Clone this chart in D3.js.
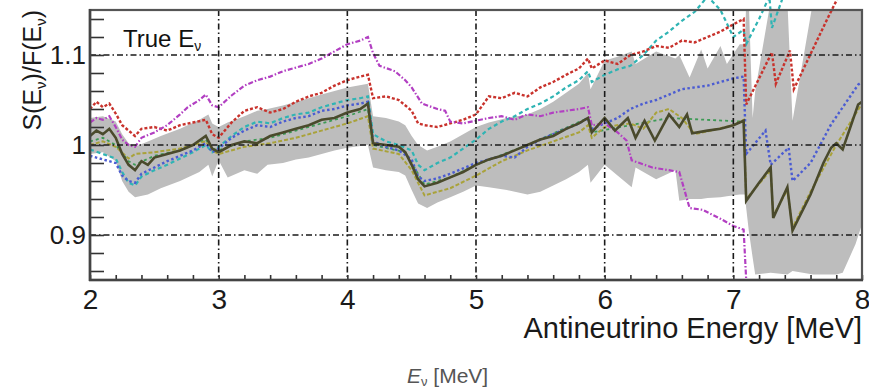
<!DOCTYPE html>
<html><head><meta charset="utf-8">
<script src="https://cdn.jsdelivr.net/npm/d3@7"></script>
<style>body{margin:0;background:#fff}svg{display:block;font-family:"Liberation Sans",Arial,sans-serif}</style>
</head><body><svg id="c" width="869" height="391"></svg>
<script>
// ---- data (energy in MeV, ratio S/F) ----
const xTicks = [2,3,4,5,6,7,8];
const xTickLabels = ["2","3","4","5","6","7","8"];
const yTicks = [0.9,1.0,1.1];
const yTickLabels = ["0.9","1","1.1"];

const bandE  = [2.00,2.10,2.20,2.25,2.30,2.35,2.45,2.55,2.70,2.85,2.92,2.95,3.00,3.07,3.20,3.30,3.38,3.50,3.60,3.70,3.80,3.90,4.00,4.16,4.20,4.30,4.40,4.45,4.50,4.55,4.62,4.70,4.80,4.90,5.00,5.10,5.24,5.40,5.50,5.60,5.70,5.80,5.87,5.89,6.00,6.10,6.21,6.24,6.40,6.55,6.58,6.66,6.75,6.80,6.90,6.95,7.05,7.09,7.10,7.12,7.15,7.17,7.29,7.42,7.46,7.62,7.80,7.85,7.95,8.00];
const bandLo = [0.990,0.992,0.982,0.960,0.948,0.942,0.945,0.952,0.960,0.970,0.978,0.965,0.983,0.964,0.972,0.968,0.978,0.980,0.984,0.986,0.990,0.994,0.997,1.000,0.975,0.972,0.970,0.966,0.950,0.935,0.930,0.936,0.942,0.948,0.955,0.953,0.950,0.945,0.948,0.955,0.962,0.970,0.978,0.958,0.978,0.966,0.953,0.975,0.962,0.972,0.938,0.940,0.940,0.941,0.942,0.943,0.945,0.945,0.930,0.905,0.875,0.856,0.858,0.856,0.860,0.856,0.856,0.858,0.890,0.912];
const bandHi = [1.030,1.032,1.026,1.012,1.002,0.998,1.004,1.010,1.018,1.028,1.034,1.024,1.020,1.025,1.032,1.038,1.040,1.044,1.048,1.052,1.056,1.060,1.064,1.068,1.032,1.030,1.026,1.022,1.010,1.000,0.994,0.998,1.004,1.012,1.020,1.025,1.030,1.034,1.040,1.048,1.058,1.068,1.080,1.062,1.094,1.098,1.104,1.090,1.104,1.096,1.100,1.075,1.106,1.085,1.110,1.090,1.112,1.112,1.160,1.160,1.030,1.060,1.160,1.160,1.027,1.160,1.160,1.160,1.160,1.160];

const nominal = [[2.0,1.010],[2.05,1.016],[2.1,1.012],[2.15,1.018],[2.2,1.008],[2.25,0.990],[2.3,0.978],[2.35,0.972],[2.4,0.982],[2.45,0.978],[2.5,0.986],[2.6,0.990],[2.7,0.994],[2.8,1.000],[2.9,1.010],[2.95,0.996],[3.0,0.992],[3.1,1.000],[3.2,1.004],[3.3,1.002],[3.4,1.010],[3.5,1.014],[3.6,1.018],[3.7,1.022],[3.8,1.028],[3.9,1.030],[4.0,1.036],[4.1,1.040],[4.16,1.046],[4.2,1.002],[4.3,1.000],[4.4,0.998],[4.45,0.992],[4.5,0.978],[4.55,0.962],[4.6,0.954],[4.7,0.958],[4.8,0.964],[4.9,0.970],[5.0,0.978],[5.1,0.984],[5.2,0.988],[5.3,0.994],[5.4,1.000],[5.5,1.006],[5.6,1.010],[5.7,1.018],[5.8,1.024],[5.87,1.030],[5.9,1.014],[6.0,1.030],[6.08,1.016],[6.18,1.030],[6.24,1.008],[6.31,1.027],[6.39,1.005],[6.5,1.034],[6.58,1.020],[6.64,1.034],[6.68,1.013],[6.8,1.016],[6.9,1.018],[7.0,1.022],[7.08,1.027],[7.1,0.938],[7.2,0.958],[7.29,0.975],[7.31,0.919],[7.42,0.953],[7.46,0.905],[7.6,0.945],[7.7,0.980],[7.76,0.997],[7.8,1.002],[7.85,0.995],[7.97,1.045],[8.0,1.048]];

const red = [[2.0,1.040],[2.05,1.048],[2.1,1.042],[2.15,1.046],[2.2,1.035],[2.25,1.022],[2.3,1.016],[2.35,1.010],[2.4,1.018],[2.5,1.020],[2.6,1.016],[2.7,1.022],[2.8,1.025],[2.9,1.028],[2.95,1.012],[3.0,1.008],[3.1,1.025],[3.2,1.038],[3.3,1.042],[3.4,1.036],[3.5,1.040],[3.6,1.048],[3.7,1.054],[3.8,1.058],[3.9,1.066],[4.0,1.072],[4.1,1.076],[4.16,1.078],[4.2,1.052],[4.3,1.054],[4.4,1.050],[4.5,1.038],[4.55,1.024],[4.6,1.022],[4.7,1.020],[4.8,1.024],[4.9,1.028],[5.0,1.034],[5.1,1.054],[5.2,1.052],[5.3,1.058],[5.4,1.054],[5.5,1.064],[5.6,1.070],[5.7,1.078],[5.8,1.085],[5.87,1.096],[5.9,1.085],[6.0,1.094],[6.1,1.090],[6.2,1.100],[6.3,1.104],[6.4,1.110],[6.5,1.108],[6.6,1.116],[6.7,1.114],[6.8,1.120],[6.9,1.126],[7.0,1.134],[7.08,1.140],[7.1,1.045],[7.3,1.103],[7.33,1.068],[7.44,1.105],[7.47,1.062],[7.73,1.140],[7.8,1.160],[8.0,1.220]];

const teal = [[2.0,0.995],[2.1,0.990],[2.2,0.985],[2.25,0.970],[2.3,0.958],[2.35,0.955],[2.4,0.965],[2.5,0.972],[2.6,0.978],[2.7,0.985],[2.8,0.992],[2.9,1.000],[2.95,0.992],[3.0,0.998],[3.1,1.010],[3.2,1.020],[3.3,1.026],[3.4,1.024],[3.5,1.030],[3.6,1.034],[3.7,1.036],[3.8,1.042],[3.9,1.046],[4.0,1.050],[4.1,1.052],[4.16,1.054],[4.2,1.012],[4.3,1.004],[4.4,1.000],[4.5,0.994],[4.55,0.978],[4.6,0.972],[4.7,0.980],[4.8,0.986],[4.9,0.996],[5.0,1.006],[5.1,1.018],[5.2,1.026],[5.3,1.032],[5.4,1.040],[5.5,1.046],[5.6,1.054],[5.7,1.064],[5.8,1.072],[5.87,1.082],[5.9,1.070],[6.0,1.078],[6.1,1.084],[6.2,1.088],[6.3,1.100],[6.4,1.116],[6.5,1.126],[6.6,1.138],[6.7,1.148],[6.8,1.165],[6.9,1.150],[7.0,1.120],[7.08,1.128],[7.1,1.112],[7.2,1.140],[7.28,1.165],[7.3,1.130],[7.4,1.170],[8.0,1.300]];

const blue = [[2.0,0.988],[2.1,0.984],[2.2,0.980],[2.25,0.966],[2.3,0.960],[2.35,0.958],[2.4,0.968],[2.5,0.975],[2.6,0.982],[2.7,0.988],[2.8,0.994],[2.9,1.002],[2.95,0.992],[3.0,0.996],[3.1,1.008],[3.2,1.016],[3.3,1.022],[3.4,1.020],[3.5,1.026],[3.6,1.030],[3.7,1.032],[3.8,1.038],[3.9,1.040],[4.0,1.044],[4.1,1.046],[4.16,1.048],[4.2,1.004],[4.3,0.998],[4.4,0.994],[4.5,0.984],[4.55,0.965],[4.6,0.960],[4.7,0.963],[4.8,0.968],[4.9,0.974],[5.0,0.980],[5.1,0.984],[5.2,0.988],[5.3,0.986],[5.4,0.998],[5.5,1.006],[5.6,1.012],[5.7,1.018],[5.8,1.024],[5.87,1.030],[5.9,1.018],[6.0,1.024],[6.1,1.030],[6.2,1.040],[6.3,1.046],[6.4,1.050],[6.5,1.056],[6.6,1.062],[6.7,1.064],[6.8,1.066],[6.9,1.070],[7.0,1.074],[7.08,1.076],[7.1,0.990],[7.25,1.016],[7.29,0.978],[7.43,0.997],[7.46,0.960],[7.6,0.980],[7.76,1.023],[7.97,1.067],[8.0,1.070]];

const magenta = [[2.0,1.025],[2.05,1.030],[2.1,1.028],[2.15,1.032],[2.2,1.020],[2.25,1.006],[2.3,1.000],[2.35,0.998],[2.4,1.008],[2.5,1.014],[2.6,1.022],[2.7,1.034],[2.76,1.042],[2.85,1.050],[2.9,1.056],[2.95,1.044],[3.0,1.042],[3.1,1.055],[3.2,1.066],[3.3,1.072],[3.4,1.076],[3.5,1.082],[3.6,1.086],[3.7,1.090],[3.8,1.096],[3.9,1.104],[4.0,1.112],[4.1,1.116],[4.16,1.120],[4.2,1.102],[4.25,1.088],[4.37,1.082],[4.45,1.072],[4.5,1.064],[4.58,1.046],[4.7,1.040],[4.76,1.038],[4.8,1.026],[4.9,1.024],[5.0,1.027],[5.1,1.030],[5.2,1.032],[5.3,1.028],[5.4,1.034],[5.5,1.032],[5.6,1.036],[5.7,1.038],[5.8,1.040],[5.87,1.042],[5.9,1.022],[6.0,1.024],[6.1,1.014],[6.17,1.005],[6.21,0.983],[6.37,0.975],[6.5,0.972],[6.58,0.970],[6.66,0.930],[6.76,0.928],[6.9,0.918],[7.0,0.910],[7.08,0.906],[7.1,0.850]];

const olive = [[2.0,1.000],[2.1,1.004],[2.2,0.998],[2.3,0.985],[2.35,0.990],[2.5,0.992],[2.7,0.996],[2.9,1.004],[2.95,0.994],[3.0,0.990],[3.2,0.998],[3.4,1.002],[3.6,1.008],[3.8,1.016],[4.0,1.024],[4.16,1.032],[4.2,0.996],[4.4,0.990],[4.5,0.972],[4.6,0.944],[4.8,0.952],[5.0,0.966],[5.2,0.982],[5.4,0.994],[5.6,1.004],[5.8,1.014],[5.87,1.022],[5.9,1.008],[6.0,1.020],[6.2,1.024],[6.3,1.018],[6.4,1.036],[6.5,1.040],[6.6,1.030],[6.7,1.012],[7.0,1.022],[7.08,1.028],[7.1,0.940],[7.29,0.972],[7.31,0.922],[7.42,0.950],[7.46,0.908],[7.6,0.948],[7.8,1.000],[8.0,1.046]];

const green = [[2.0,1.004],[2.1,1.008],[2.2,1.000],[2.3,0.982],[2.35,0.978],[2.5,0.988],[2.7,0.994],[2.9,1.006],[2.95,0.996],[3.0,0.994],[3.2,1.004],[3.4,1.008],[3.6,1.016],[3.8,1.024],[4.0,1.032],[4.16,1.040],[4.2,1.000],[4.45,0.992],[4.6,0.956],[4.8,0.964],[5.0,0.978],[5.4,1.000],[5.87,1.030],[5.9,1.014],[6.5,1.030],[7.08,1.026]];

const seriesStyles = [
  {data: green,   color:"#3d9a55", dash:"3,3",     w:1.8},
  {data: olive,   color:"#a9a23a", dash:"4,2",     w:2},
  {data: teal,    color:"#2fb4b4", dash:"4,3",     w:2.2},
  {data: blue,    color:"#4b5cd2", dash:"2.5,2.5", w:2.4},
  {data: red,     color:"#c8322c", dash:"3,2",     w:2.4},
  {data: magenta, color:"#b23fc2", dash:"5,2,1.5,2", w:2.2}
];

// ---- drawing ----
const svg = d3.select("#c");
const L=90, R=862, T=10, B=280;
const x = d3.scaleLinear().domain([2,8]).range([L,R]);
const y = d3.scaleLinear().domain([0.85,1.15]).range([B,T]);

const defs = svg.append("defs");
defs.append("clipPath").attr("id","frame").append("rect").attr("x",L).attr("y",T).attr("width",R-L).attr("height",B-T);
defs.append("clipPath").attr("id","pad").append("rect").attr("x",L).attr("y",0).attr("width",R-L).attr("height",B);

// band
const band = bandE.map((e,i)=>({e, lo:bandLo[i], hi:bandHi[i]}));
svg.append("path").datum(band).attr("clip-path","url(#frame)")
  .attr("fill","#bdbdbd")
  .attr("d", d3.area().x(d=>x(d.e)).y0(d=>y(d.lo)).y1(d=>y(d.hi)));

// colored series
const line = d3.line().x(d=>x(d[0])).y(d=>y(d[1]));
const gLines = svg.append("g").attr("clip-path","url(#pad)");
seriesStyles.forEach(s=>{
  gLines.append("path").datum(s.data).attr("fill","none").attr("stroke",s.color)
    .attr("stroke-width",s.w).attr("stroke-dasharray",s.dash).attr("d",line);
});
// nominal
gLines.append("path").datum(nominal).attr("fill","none").attr("stroke","#4a4a2c")
  .attr("stroke-width",2.6).attr("d",line);

// grid
const grid = svg.append("g").attr("stroke","#1a1a1a").attr("stroke-width",1.6).attr("stroke-dasharray","6,3,1.5,3");
grid.selectAll("line.v").data(xTicks.filter(t=>t>2&&t<8)).join("line")
  .attr("x1",d=>x(d)).attr("x2",d=>x(d)).attr("y1",T).attr("y2",B);
grid.selectAll("line.h").data(yTicks).join("line").attr("class","h")
  .attr("x1",L).attr("x2",R).attr("y1",d=>y(d)).attr("y2",d=>y(d));

// minor ticks
const yMinor = d3.range(0.86,1.1401,0.02).map(v=>+v.toFixed(2));
const xMinor = d3.range(2,8.001,0.2).map(v=>+v.toFixed(1));
svg.append("g").attr("transform",`translate(${L},0)`)
  .call(d3.axisLeft(y).tickValues(yMinor).tickSize(-14).tickFormat(""))
  .call(g=>g.select(".domain").remove())
  .selectAll("line").attr("stroke","#333").attr("stroke-width",1.6);
svg.append("g").attr("transform",`translate(0,${B})`)
  .call(d3.axisBottom(x).tickValues(xMinor).tickSize(-5).tickFormat(""))
  .call(g=>g.select(".domain").remove())
  .selectAll("line").attr("stroke","#333").attr("stroke-width",1.6);

// frame
svg.append("rect").attr("x",L).attr("y",T).attr("width",R-L).attr("height",B-T)
  .attr("fill","none").attr("stroke","#555").attr("stroke-width",2.2);
svg.append("line").attr("x1",L-1).attr("x2",R+1).attr("y1",B).attr("y2",B).attr("stroke","#444").attr("stroke-width",2.6);
svg.append("line").attr("x1",L).attr("x2",L).attr("y1",T-1).attr("y2",B+1).attr("stroke","#444").attr("stroke-width",2.6);

// tick labels
const xa = svg.append("g").attr("transform",`translate(0,${B})`)
  .call(d3.axisBottom(x).tickValues(xTicks).tickSize(0).tickPadding(9).tickFormat((d,i)=>xTickLabels[i]));
xa.select(".domain").remove();
xa.selectAll("text").attr("font-size",28).attr("fill","#1a1a1a").attr("font-family","Liberation Sans, Arial, sans-serif");
const ya = svg.append("g").attr("transform",`translate(${L},0)`)
  .call(d3.axisLeft(y).tickValues(yTicks).tickSize(0).tickPadding(4).tickFormat((d,i)=>yTickLabels[i]));
ya.select(".domain").remove();
ya.selectAll("text").attr("font-size",26).attr("fill","#1a1a1a").attr("font-family","Liberation Sans, Arial, sans-serif");

// titles
svg.append("text").attr("x",R).attr("y",338).attr("text-anchor","end")
  .attr("font-size",29).attr("fill","#1a1a1a").text("Antineutrino Energy [MeV]");
const yt = svg.append("text").attr("transform",`translate(41,${T}) rotate(-90)`).attr("text-anchor","end")
  .attr("font-size",25).attr("fill","#1a1a1a");
yt.append("tspan").text("S(E");
yt.append("tspan").attr("font-size",15).attr("dy",5).text("ν");
yt.append("tspan").attr("dy",-5).text(")/F(E");
yt.append("tspan").attr("font-size",15).attr("dy",5).text("ν");
yt.append("tspan").attr("dy",-5).text(")");

const tl = svg.append("text").attr("x",123).attr("y",47).attr("font-size",24).attr("fill","#111");
tl.append("tspan").text("True E");
tl.append("tspan").attr("font-size",14).attr("dy",4).text("ν");

const bt = svg.append("text").attr("x",407).attr("y",383).attr("font-size",21).attr("fill","#555");
bt.append("tspan").attr("font-style","italic").text("E");
bt.append("tspan").attr("font-size",13).attr("dy",3).text("ν");
bt.append("tspan").attr("dy",-3).text(" [MeV]");
</script></body></html>
